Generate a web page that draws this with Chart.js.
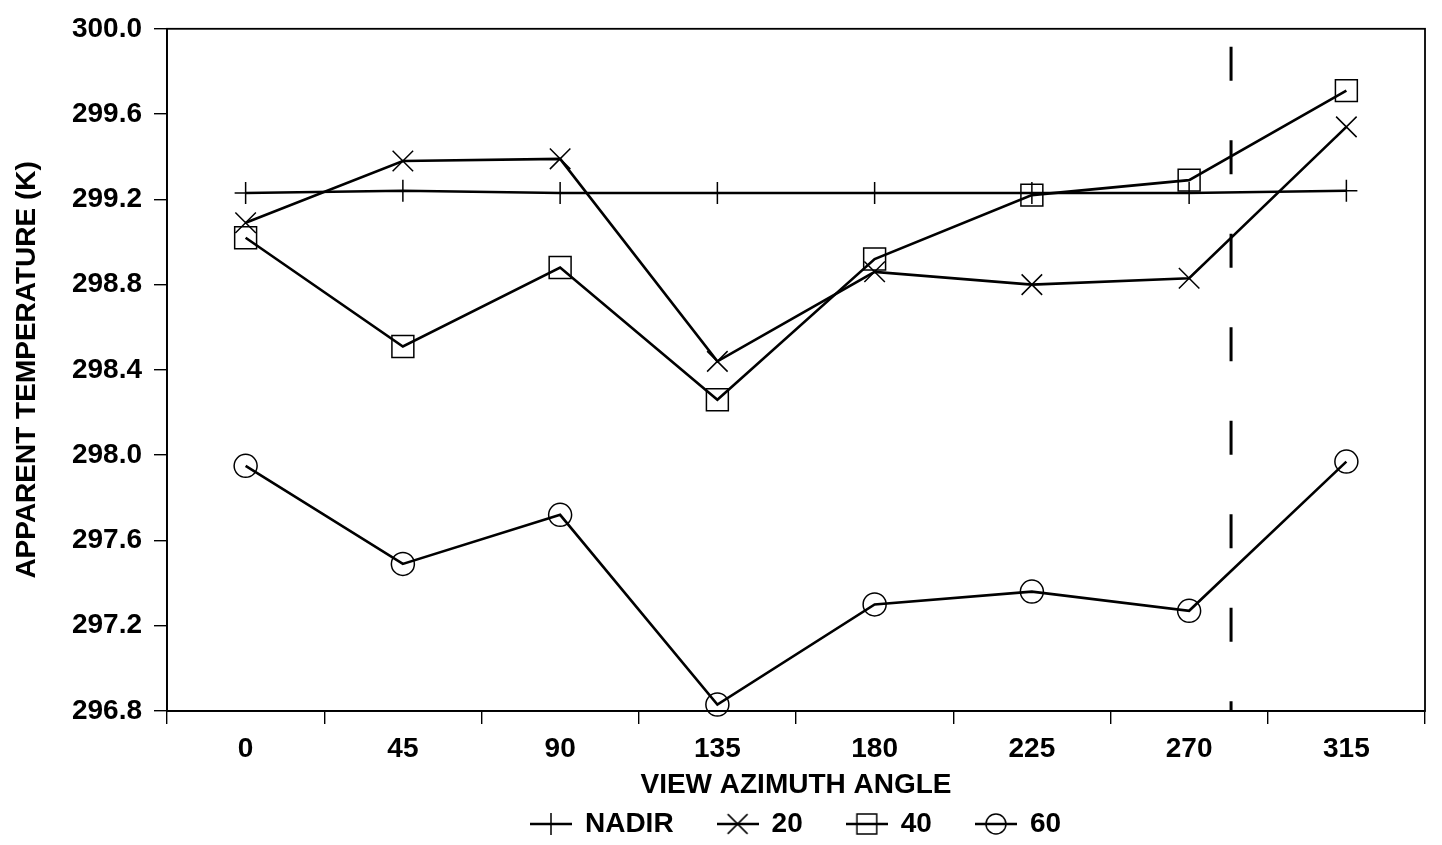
<!DOCTYPE html>
<html>
<head>
<meta charset="utf-8">
<title>Apparent temperature vs view azimuth</title>
<script src="https://cdn.jsdelivr.net/npm/chart.js@4/dist/chart.umd.min.js"></script>
<style>
  html, body { margin: 0; padding: 0; background: #fff; }
  #wrap { width: 1442px; height: 845px; }
</style>
</head>
<body>
<div id="wrap"><canvas id="tempChart" width="1442" height="845"></canvas></div>
<script>
// View azimuth categories (degrees)
const azimuths = ['0', '45', '90', '135', '180', '225', '270', '315'];

// Apparent temperature (K) per zenith view angle
const nadir = [299.23, 299.24, 299.23, 299.23, 299.23, 299.23, 299.23, 299.24];
const zen20 = [299.09, 299.38, 299.39, 298.44, 298.86, 298.80, 298.83, 299.54];
const zen40 = [299.02, 298.51, 298.88, 298.26, 298.92, 299.22, 299.29, 299.71];
const zen60 = [297.95, 297.49, 297.72, 296.83, 297.30, 297.36, 297.27, 297.97];

const seriesNames = ['NADIR', '20', '40', '60'];

// y axis range and step
const yMin = 296.8;
const yMax = 300.0;
const yStep = 0.4;

// azimuth of the dashed marker line
const dividerAngle = 282;

const FONT = '"Liberation Sans", Arial, Helvetica, sans-serif';
const boldFont = { family: FONT, size: 28, weight: 'bold' };

const markers = [
  { style: 'cross', radius: 11, legendRadius: 11 },
  { style: 'crossRot', radius: 14.5, legendRadius: 14 },
  { style: 'rect', radius: 15.5, legendRadius: 14 },
  { style: 'circle', radius: 11.5, legendRadius: 10 }
];

// little "line through marker" pictures for the legend
function legendSymbol(m) {
  const c = document.createElement('canvas');
  c.width = 42;
  c.height = 26;
  const g = c.getContext('2d');
  g.strokeStyle = '#000';
  g.lineWidth = 2.4;
  g.beginPath();
  g.moveTo(0, 13);
  g.lineTo(42, 13);
  g.stroke();
  g.lineWidth = 1.5;
  g.fillStyle = 'rgba(0,0,0,0)';
  Chart.helpers.drawPoint(g, { pointStyle: m.style, radius: m.legendRadius, borderWidth: 1.5, rotation: 0 }, 21, 13);
  return c;
}

const frameBox = {
  id: 'frameBox',
  afterDatasetsDraw(chart) {
    const { ctx, chartArea, scales } = chart;
    const x = scales.x;

    // dashed divider between 270 and 315
    const i = Math.floor(dividerAngle / 45);
    const p0 = x.getPixelForValue(i);
    const p1 = x.getPixelForValue(i + 1);
    const px = p0 + (dividerAngle - i * 45) / 45 * (p1 - p0);
    ctx.save();
    ctx.strokeStyle = '#000';
    ctx.lineWidth = 3;
    ctx.setLineDash([34, 59.5]);
    ctx.lineDashOffset = 75.5;
    ctx.beginPath();
    ctx.moveTo(px, chartArea.top);
    ctx.lineTo(px, chartArea.bottom);
    ctx.stroke();
    ctx.restore();

    // plot frame
    ctx.save();
    ctx.strokeStyle = '#000';
    ctx.lineWidth = 1.8;
    ctx.strokeRect(chartArea.left, chartArea.top, chartArea.right - chartArea.left, chartArea.bottom - chartArea.top);
    ctx.restore();
  }
};

function makeSet(label, data, m) {
  return {
    label: label,
    data: data,
    borderColor: '#000',
    borderWidth: 2.6,
    tension: 0,
    fill: false,
    clip: false,
    pointStyle: m.style,
    pointRadius: m.radius,
    pointHoverRadius: m.radius,
    pointBorderColor: '#000',
    pointBorderWidth: 1.5,
    pointBackgroundColor: 'rgba(0,0,0,0)'
  };
}

const ctx = document.getElementById('tempChart').getContext('2d');
new Chart(ctx, {
  type: 'line',
  data: {
    labels: azimuths,
    datasets: [
      makeSet(seriesNames[0], nadir, markers[0]),
      makeSet(seriesNames[1], zen20, markers[1]),
      makeSet(seriesNames[2], zen40, markers[2]),
      makeSet(seriesNames[3], zen60, markers[3])
    ]
  },
  options: {
    responsive: false,
    animation: false,
    layout: { padding: { left: 0, right: 17, top: 22, bottom: -3 } },
    plugins: {
      tooltip: { enabled: false },
      legend: {
        position: 'bottom',
        fullSize: false,
        labels: {
          usePointStyle: true,
          pointStyleWidth: 40,
          padding: 44,
          color: '#000',
          font: boldFont,
          generateLabels(chart) {
            return chart.data.datasets.map((ds, i) => ({
              text: ds.label,
              pointStyle: legendSymbol(markers[i]),
              fillStyle: 'rgba(0,0,0,0)',
              strokeStyle: '#000',
              lineWidth: 0,
              fontColor: '#000',
              hidden: false,
              datasetIndex: i
            }));
          }
        }
      }
    },
    scales: {
      x: {
        type: 'category',
        offset: true,
        grid: { offset: true, drawOnChartArea: false, drawTicks: true, tickLength: 13, color: '#000', lineWidth: 1.4 },
        border: { display: true, color: '#000', width: 1.8 },
        ticks: { color: '#000', font: boldFont, padding: 8, maxRotation: 0, autoSkip: false },
        title: {
          display: true,
          text: 'VIEW AZIMUTH ANGLE',
          color: '#000',
          font: boldFont,
          padding: { top: 0, bottom: -36 }
        },
        afterFit(scale) { scale.height = 55; }
      },
      y: {
        min: yMin,
        max: yMax,
        grid: { drawOnChartArea: false, drawTicks: true, tickLength: 13, color: '#000', lineWidth: 1.4 },
        border: { display: true, color: '#000', width: 1.8 },
        ticks: {
          stepSize: yStep,
          color: '#000',
          font: boldFont,
          padding: 12,
          callback: (v) => Number(v).toFixed(1)
        },
        title: {
          display: true,
          text: 'APPARENT TEMPERATURE (K)',
          color: '#000',
          font: boldFont,
          padding: { top: 10, bottom: 0 }
        },
        afterFit(scale) { scale.width = 167; }
      }
    }
  },
  plugins: [frameBox]
});
</script>
</body>
</html>
